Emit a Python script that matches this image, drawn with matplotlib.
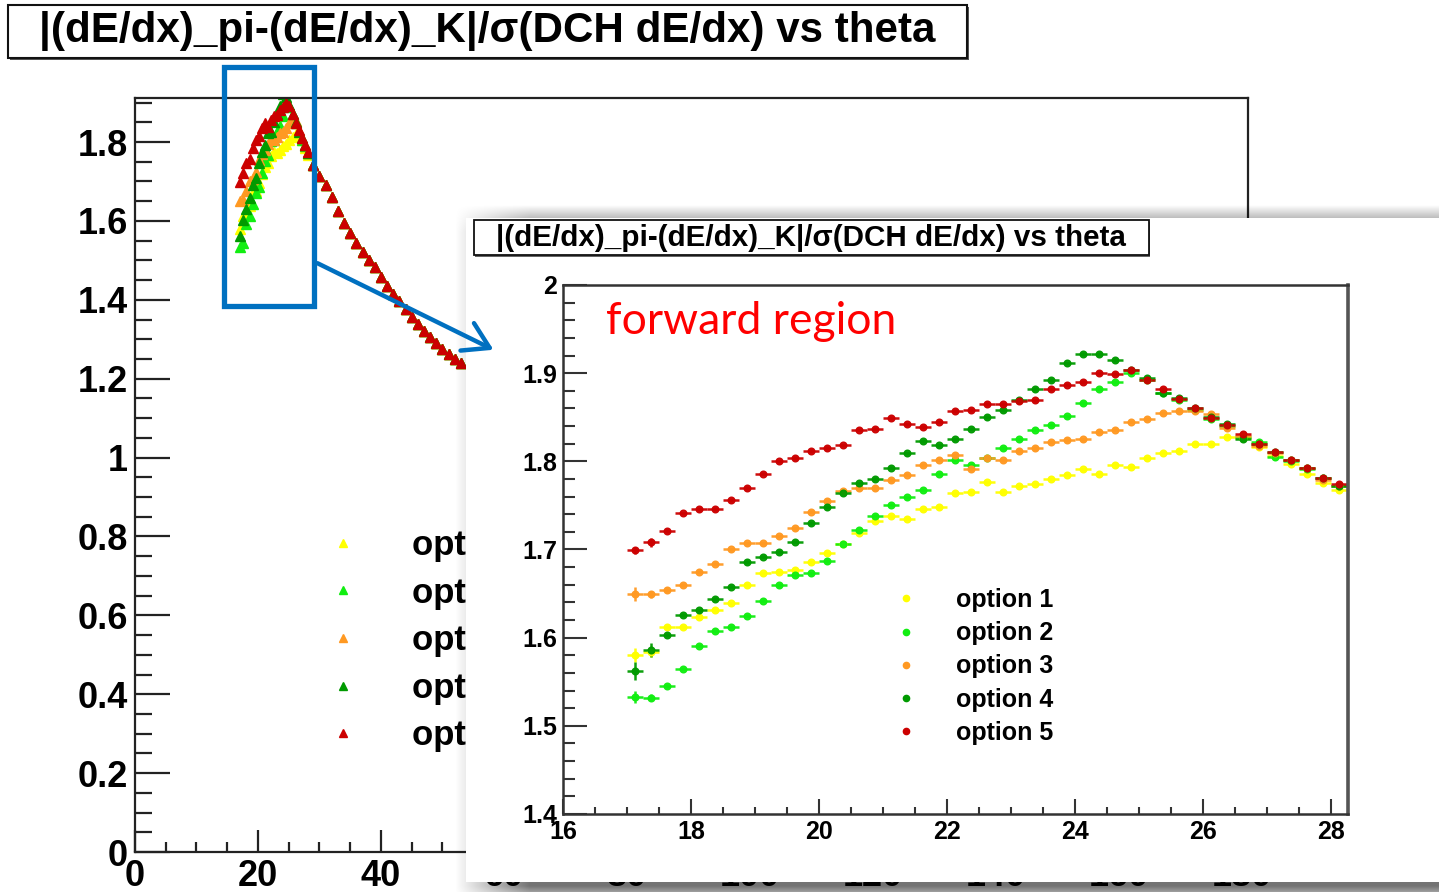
import numpy as np
import matplotlib
matplotlib.use("Agg")
import matplotlib.pyplot as plt
from matplotlib.patches import Rectangle, FancyArrowPatch
from matplotlib.lines import Line2D
from matplotlib.ticker import MultipleLocator, FuncFormatter

# ---------------- data ----------------
TITLE = "|(dE/dx)_pi-(dE/dx)_K|/\u03c3(DCH dE/dx) vs theta"
LABELS = ["option 1", "option 2", "option 3", "option 4", "option 5"]
COLORS = ["#FFFF00", "#11EE11", "#FF9922", "#009A00", "#CC0000"]

# theta bin centres of the zoomed histogram (0.25 deg bins)
theta = np.arange(17.125, 28.2, 0.25)

opt1 = [1.580, 1.584, 1.612, 1.612, 1.624, 1.631, 1.639, 1.660, 1.673, 1.674,
        1.677, 1.686, 1.696, 1.706, 1.719, 1.732, 1.738, 1.735, 1.746, 1.748,
        1.764, 1.765, 1.776, 1.765, 1.772, 1.774, 1.780, 1.785, 1.791, 1.786,
        1.796, 1.794, 1.804, 1.810, 1.812, 1.820, 1.820, 1.828, 1.827, 1.816,
        1.806, 1.797, 1.786, 1.775, 1.768]
opt2 = [1.533, 1.532, 1.545, 1.565, 1.591, 1.607, 1.612, 1.625, 1.642, 1.660,
        1.671, 1.673, 1.687, 1.706, 1.722, 1.738, 1.751, 1.759, 1.768, 1.786,
        1.802, 1.796, 1.804, 1.815, 1.825, 1.836, 1.841, 1.851, 1.866, 1.882,
        1.890, 1.900, 1.892, 1.877, 1.870, 1.858, 1.848, 1.840, 1.828, 1.822,
        1.805, 1.800, 1.791, 1.781, 1.772]
opt3 = [1.650, 1.649, 1.654, 1.660, 1.675, 1.684, 1.700, 1.707, 1.707, 1.715,
        1.724, 1.743, 1.755, 1.766, 1.770, 1.770, 1.779, 1.785, 1.796, 1.802,
        1.807, 1.791, 1.804, 1.801, 1.812, 1.815, 1.822, 1.824, 1.825, 1.833,
        1.836, 1.845, 1.848, 1.855, 1.857, 1.857, 1.854, 1.838, 1.829, 1.817,
        1.810, 1.801, 1.792, 1.779, 1.772]
opt4 = [1.562, 1.586, 1.603, 1.626, 1.631, 1.644, 1.658, 1.686, 1.692, 1.697,
        1.709, 1.730, 1.748, 1.764, 1.775, 1.780, 1.793, 1.809, 1.823, 1.818,
        1.825, 1.837, 1.850, 1.858, 1.870, 1.882, 1.892, 1.911, 1.922, 1.922,
        1.915, 1.904, 1.895, 1.878, 1.872, 1.860, 1.850, 1.842, 1.825, 1.820,
        1.811, 1.801, 1.793, 1.781, 1.772]
opt5 = [1.699, 1.708, 1.721, 1.741, 1.746, 1.746, 1.756, 1.770, 1.786, 1.800,
        1.804, 1.812, 1.815, 1.818, 1.836, 1.837, 1.849, 1.842, 1.839, 1.845,
        1.857, 1.858, 1.865, 1.865, 1.868, 1.869, 1.882, 1.887, 1.890, 1.900,
        1.899, 1.904, 1.892, 1.882, 1.871, 1.861, 1.849, 1.841, 1.831, 1.820,
        1.811, 1.801, 1.793, 1.781, 1.774]
SERIES = [opt1, opt2, opt3, opt4, opt5]

# vertical errors of the first two bins (others tiny)
ERR_FIRST = [[0.008, 0.006], [0.007, 0.004], [0.008, 0.004], [0.010, 0.008], [0.004, 0.005]]
ERR_REST = 0.002

# full-range plot: continuation of the (overlapping) band beyond the zoomed region
tail_theta = [29, 30, 31, 32, 33, 34, 35, 36, 37, 38, 39, 40, 41, 42, 43, 44,
              45, 46, 47, 48, 49, 50, 51, 52, 53]
tail_val = [1.742, 1.715, 1.690, 1.660, 1.625, 1.595, 1.569, 1.545, 1.520, 1.500,
            1.482, 1.458, 1.436, 1.415, 1.396, 1.376, 1.356, 1.338, 1.322, 1.307,
            1.290, 1.275, 1.262, 1.250, 1.240]

# ---------------- figure ----------------
W, H = 1439, 892
plt.rcParams['font.family'] = ['Liberation Sans', 'DejaVu Sans']
plt.rcParams['font.weight'] = 'bold'
fig = plt.figure(figsize=(W / 100, H / 100), dpi=100)


def box(x0, y0, x1, y1):
    return [x0 / W, 1 - y1 / H, (x1 - x0) / W, (y1 - y0) / H]


fmt_g = FuncFormatter(lambda v, p: "%g" % round(v, 3))
AXC = "#222222"

# ---------- background (full theta range) ----------
bg = fig.add_axes(box(135, 98, 1248, 852), zorder=1)
bg.set_xlim(0, 181)
bg.set_ylim(0, 1.9117)
for s in bg.spines.values():
    s.set_linewidth(1.6)
    s.set_color(AXC)
for vals, col, lab in zip(SERIES, COLORS, LABELS):
    xs = list(theta[::2]) + tail_theta
    ys = list(vals[::2]) + tail_val
    bg.plot(xs, ys, ls='none', marker='^', ms=6.5, color=col, mec=col, label=lab)
bg.xaxis.set_major_locator(MultipleLocator(20))
bg.xaxis.set_minor_locator(MultipleLocator(5))
bg.yaxis.set_major_locator(MultipleLocator(0.2))
bg.yaxis.set_minor_locator(MultipleLocator(0.05))
bg.yaxis.set_major_formatter(fmt_g)
bg.tick_params(which='both', direction='in', top=False, right=False, color=AXC, width=1.6)
bg.tick_params(axis='y', which='major', length=25, pad=5, labelsize=26)
bg.tick_params(axis='y', which='minor', length=12)
bg.tick_params(axis='x', which='major', length=16, pad=5, labelsize=26)
bg.tick_params(axis='x', which='minor', length=7)
hnd = [Line2D([], [], ls='none', marker='^', ms=6, color=c, mec=c) for c in COLORS]
bg.legend(hnd, LABELS, loc='upper left', bbox_to_anchor=(325.6 / W, 1 - 529 / H),
          bbox_transform=fig.transFigure, frameon=False, fontsize=25,
          handlelength=1.0, handletextpad=1.49, borderpad=0, borderaxespad=0,
          labelspacing=0.42)

# ---------- overlay: title box, shadow, white inset panel ----------
ov = fig.add_axes([0, 0, 1, 1], zorder=2)
ov.set_xlim(0, W)
ov.set_ylim(H, 0)
ov.axis('off')
ov.add_patch(Rectangle((10, 7), 959, 53, fc='#555555', ec='none'))
ov.add_patch(Rectangle((8, 5), 959, 53, fc='white', ec='#111111', lw=1.5))
ov.text(487.5, 31, TITLE, ha='center', va='center', fontsize=30.3, fontweight='bold')

xs_ = np.arange(440, W) + 0.5
ys_ = np.arange(200, H) + 0.5


def ramp(v, a, b):
    return np.clip((v - a) / (b - a), 0, 1)


sx = ramp(xs_, 455, 530)
sy = ramp(ys_, 205, 232) * (1 - ramp(ys_, 886, 905))
alpha = 0.55 * np.outer(sy, sx)
rgba = np.zeros((len(ys_), len(xs_), 4))
rgba[..., 3] = alpha
ov.imshow(rgba, extent=(440, W, H, 200), aspect='auto', interpolation='bilinear')
ov.set_xlim(0, W)
ov.set_ylim(H, 0)
ov.add_patch(Rectangle((466, 218), W - 466, 664, fc='white', ec='none'))

# ---------- inset (forward region) ----------
ins = fig.add_axes(box(563, 285, 1348, 814), zorder=3)
ins.set_xlim(16, 28.27)
ins.set_ylim(1.4, 2.0)
for s in ins.spines.values():
    s.set_linewidth(1.8)
    s.set_color("#333333")
ins.spines['right'].set_linewidth(2.6)
ins.spines['right'].set_color("#555555")
for k, (vals, col, lab) in enumerate(zip(SERIES, COLORS, LABELS)):
    err = np.full(len(vals), ERR_REST)
    err[:2] = ERR_FIRST[k]
    ins.errorbar(theta, vals, xerr=0.125, yerr=err, fmt='o', ms=4.8, color=col,
                 mec=col, ecolor=col, elinewidth=1.8, capsize=0, alpha=0.95, label=lab)
ins.xaxis.set_major_locator(MultipleLocator(2))
ins.xaxis.set_minor_locator(MultipleLocator(0.5))
ins.yaxis.set_major_locator(MultipleLocator(0.1))
ins.yaxis.set_minor_locator(MultipleLocator(0.02))
ins.yaxis.set_major_formatter(fmt_g)
ins.tick_params(which='both', direction='in', top=False, right=False, color="#333333", width=1.5)
ins.tick_params(axis='y', which='major', length=17, pad=4, labelsize=18)
ins.tick_params(axis='y', which='minor', length=8.6)
ins.tick_params(axis='x', which='major', length=11, pad=4, labelsize=18)
ins.tick_params(axis='x', which='minor', length=5)
hnd2 = [Line2D([], [], ls='none', marker='o', ms=4.5, color=c, mec=c) for c in COLORS]
ins.legend(hnd2, LABELS, loc='upper left', bbox_to_anchor=(893.5 / W, 1 - 588 / H),
           bbox_transform=fig.transFigure, frameon=False, fontsize=18,
           handlelength=1.0, handletextpad=1.5, borderpad=0, borderaxespad=0,
           labelspacing=0.37)

# ---------- top overlay: inset title, annotation, zoom box, arrow ----------
top = fig.add_axes([0, 0, 1, 1], zorder=4)
top.set_xlim(0, W)
top.set_ylim(H, 0)
top.axis('off')
top.add_patch(Rectangle((475, 222), 675, 35, fc='#666666', ec='none'))
top.add_patch(Rectangle((474, 220), 675, 35, fc='white', ec='#111111', lw=1.3))
top.text(811, 238, TITLE, ha='center', va='center', fontsize=21.3, fontweight='bold')
top.text(606, 322, "forward region", ha='left', va='center', color='#FF0000',
         fontsize=32, fontweight='normal', family=['Lato', 'DejaVu Sans'])
BLUE = '#0070C0'
top.add_patch(Rectangle((224, 67), 90, 239, fc='none', ec=BLUE, lw=3.8))
top.add_patch(FancyArrowPatch((315, 262), (496, 351), arrowstyle='->,head_length=0.9,head_width=0.55',
                              mutation_scale=20, color=BLUE, lw=3.2))

fig.savefig("out.png", dpi=100)
